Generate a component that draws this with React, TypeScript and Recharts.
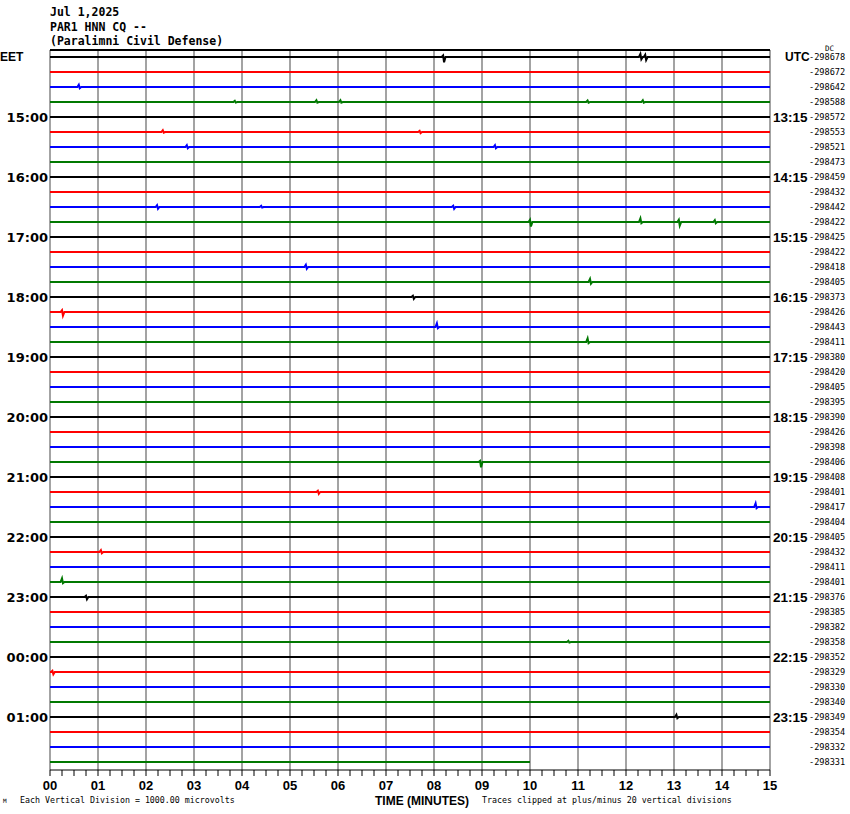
import React from 'react';
import { LineChart, Line, XAxis, YAxis, ReferenceLine } from 'recharts';

// helicorder: 48 traces of 15 minutes each, colours cycle every 4 traces
const TRACE_COLORS = ['#000000', '#ff0000', '#0000ff', '#007800'];

const LOCAL_HOURS = ['15:00', '16:00', '17:00', '18:00', '19:00', '20:00', '21:00', '22:00', '23:00', '00:00', '01:00'];
const UTC_HOURS = ['13:15', '14:15', '15:15', '16:15', '17:15', '18:15', '19:15', '20:15', '21:15', '22:15', '23:15'];

// DC offset printed at the right of each trace
const DC_OFFSETS = [
  -298678, -298672, -298642, -298588, -298572, -298553, -298521, -298473,
  -298459, -298432, -298442, -298422, -298425, -298422, -298418, -298405,
  -298373, -298426, -298443, -298411, -298380, -298420, -298405, -298395,
  -298390, -298426, -298398, -298406, -298408, -298401, -298417, -298404,
  -298405, -298432, -298411, -298401, -298376, -298385, -298382, -298358,
  -298352, -298329, -298330, -298340, -298349, -298354, -298332, -298331,
];

const MINUTE_LABELS = ['00', '01', '02', '03', '04', '05', '06', '07', '08', '09', '10', '11', '12', '13', '14', '15'];
const LAST_TRACE_END = 10;

// [trace, minute, up, down] deflections in trace spacings
const EVENTS: [number, number, number, number][] = [
  [0, 8.19, 0.1, 0.35], [0, 12.3, 0.2, 0.15], [0, 12.4, 0.15, 0.2],
  [2, 0.6, 0.15, 0.08],
  [3, 3.85, 0.08, 0.04], [3, 5.55, 0.12, 0.04], [3, 6.05, 0.12, 0.04], [3, 11.2, 0.1, 0.04], [3, 12.35, 0.12, 0.04],
  [5, 2.35, 0.12, 0.04], [5, 7.7, 0.08, 0.08],
  [6, 2.85, 0.12, 0.08], [6, 9.27, 0.12, 0.08],
  [10, 2.23, 0.12, 0.12], [10, 4.4, 0.08, 0.04], [10, 8.4, 0.08, 0.12],
  [11, 10.0, 0.15, 0.3], [11, 12.3, 0.25, 0.08], [11, 13.1, 0.15, 0.25], [11, 13.85, 0.12, 0.08],
  [14, 5.33, 0.15, 0.12],
  [15, 11.25, 0.2, 0.12],
  [16, 7.56, 0.08, 0.12],
  [17, 0.25, 0.12, 0.25],
  [18, 8.06, 0.25, 0.08],
  [19, 11.2, 0.25, 0.08],
  [27, 8.96, 0.08, 0.35],
  [29, 5.58, 0.08, 0.12],
  [30, 14.7, 0.25, 0.08],
  [33, 1.06, 0.12, 0.08],
  [35, 0.25, 0.25, 0.08],
  [36, 0.75, 0.08, 0.15],
  [39, 10.8, 0.08, 0.04],
  [41, 0.05, 0.08, 0.15],
  [44, 13.05, 0.15, 0.08],
];

const N = DC_OFFSETS.length;
const Y_DOMAIN: [number, number] = [-7 / 15, N - 1 + 8 / 15];
const QUARTER_TICKS = Array.from({ length: 61 }, (_, k) => k / 4);
const LINE_TICKS = DC_OFFSETS.map((_, i) => i);

const traces = DC_OFFSETS.map((_, i) => {
  const end = i === N - 1 ? LAST_TRACE_END : 15;
  const pts = [{ t: 0, y: i }];
  EVENTS.filter((e) => e[0] === i)
    .sort((a, b) => a[1] - b[1])
    .forEach(([, m, up, down]) => {
      pts.push({ t: Math.max(0, m - 0.03), y: i });
      pts.push({ t: m, y: i - up });
      pts.push({ t: m + 0.02, y: i + down });
      pts.push({ t: m + 0.05, y: i });
    });
  pts.push({ t: end, y: i });
  return pts;
});

const localLabel = (i: number) => (i === 0 ? 'EET' : i % 4 === 0 ? LOCAL_HOURS[i / 4 - 1] : '');
const utcLabel = (i: number) => (i === 0 ? 'UTC' : i % 4 === 0 ? UTC_HOURS[i / 4 - 1] : '');

const LeftTick = (props: any) => {
  const { x, y, payload } = props;
  const label = localLabel(payload.value);
  if (!label) return null;
  const small = payload.value === 0;
  return (
    <text x={small ? x - 48 : x} y={y} dy="0.36em" textAnchor={small ? 'start' : 'end'}
      fontFamily={small ? "'Liberation Sans', sans-serif" : "'DejaVu Sans', sans-serif"}
      fontWeight="bold" fontSize={small ? 12 : 13} fill="#000">
      {label}
    </text>
  );
};

const RightTick = (props: any) => {
  const { x, y, payload } = props;
  const i = payload.value;
  const label = utcLabel(i);
  return (
    <g>
      {label && (
        <text x={label === 'UTC' ? x + 12 : x} y={y} dy="0.36em" textAnchor="start"
          fontFamily="'Liberation Sans', sans-serif" fontWeight="bold" fontSize={label === 'UTC' ? 12 : 13.5} fill="#000">
          {label}
        </text>
      )}
      <text x={x + 36} y={y} dy="0.36em" textAnchor="start"
        fontFamily="'DejaVu Sans Mono', monospace" fontSize={8.6} fill="#000">
        {DC_OFFSETS[i]}
      </text>
    </g>
  );
};

const BottomTick = (props: any) => {
  const { x, y, payload } = props;
  const v = payload.value;
  if (!Number.isInteger(v)) return null;
  return (
    <text x={x} y={y} dy={12} textAnchor="middle"
      fontFamily="'Liberation Sans', sans-serif" fontWeight="bold" fontSize={13} fill="#000">
      {MINUTE_LABELS[v]}
    </text>
  );
};

export default function App() {
  return (
    <div style={{ position: 'absolute', left: 0, top: 0, width: 850, height: 814, background: '#fff' }}>
      <LineChart width={850} height={814} margin={{ top: 50, right: 0, left: 0, bottom: 14 }}>
        <XAxis type="number" dataKey="t" domain={[0, 15]} ticks={QUARTER_TICKS} interval={0}
          allowDataOverflow height={30} tickSize={6} stroke="#000" tick={<BottomTick />} />
        <YAxis yAxisId="left" type="number" domain={Y_DOMAIN} reversed ticks={LINE_TICKS} interval={0}
          width={50} tickSize={0} tickMargin={2} axisLine={false} tickLine={false} tick={<LeftTick />} />
        <YAxis yAxisId="right" orientation="right" type="number" domain={Y_DOMAIN} reversed ticks={LINE_TICKS}
          interval={0} width={80} tickSize={0} tickMargin={3} axisLine={false} tickLine={false} tick={<RightTick />} />
        {MINUTE_LABELS.map((_, m) => (
          <ReferenceLine key={m} x={m} yAxisId="left" stroke="#858585" strokeWidth={1.5} />
        ))}
        <ReferenceLine y={Y_DOMAIN[0]} yAxisId="left" stroke="#000" strokeWidth={2} />
        {traces.map((pts, i) => (
          <Line key={i} yAxisId="left" data={pts} dataKey="y" type="linear"
            stroke={TRACE_COLORS[i % 4]} strokeWidth={2} dot={false} isAnimationActive={false} />
        ))}
        {/* keeps the right axis alive; draws nothing */}
        <Line yAxisId="right" data={traces[N - 1]} dataKey="y" stroke="none" strokeWidth={0}
          dot={false} activeDot={false} legendType="none" isAnimationActive={false} />
      </LineChart>
      <svg width={850} height={814} style={{ position: 'absolute', left: 0, top: 0, pointerEvents: 'none' }}>
        <g fontFamily="'DejaVu Sans Mono', monospace" fontWeight="bold" fontSize={11.5} fill="#000">
          <text x={50} y={16}>Jul 1,2025</text>
          <text x={50} y={31}>PAR1 HNN CQ --</text>
          <text x={50} y={45}>(Paralimni Civil Defense)</text>
        </g>
        <text x={825} y={51} fontFamily="'DejaVu Sans Mono', monospace" fontSize={7.5} fill="#000">DC</text>
        <text x={422} y={805} textAnchor="middle" fontFamily="'Liberation Sans', sans-serif" fontWeight="bold" fontSize={12} fill="#000">
          TIME (MINUTES)
        </text>
        <g fontFamily="'DejaVu Sans Mono', monospace" fontSize={8.3} fill="#000">
          <text x={3} y={803} fontSize={6}>M</text>
          <text x={20} y={803}>Each Vertical Division = 1000.00 microvolts</text>
          <text x={482} y={803}>Traces clipped at plus/minus 20 vertical divisions</text>
        </g>
      </svg>
    </div>
  );
}
